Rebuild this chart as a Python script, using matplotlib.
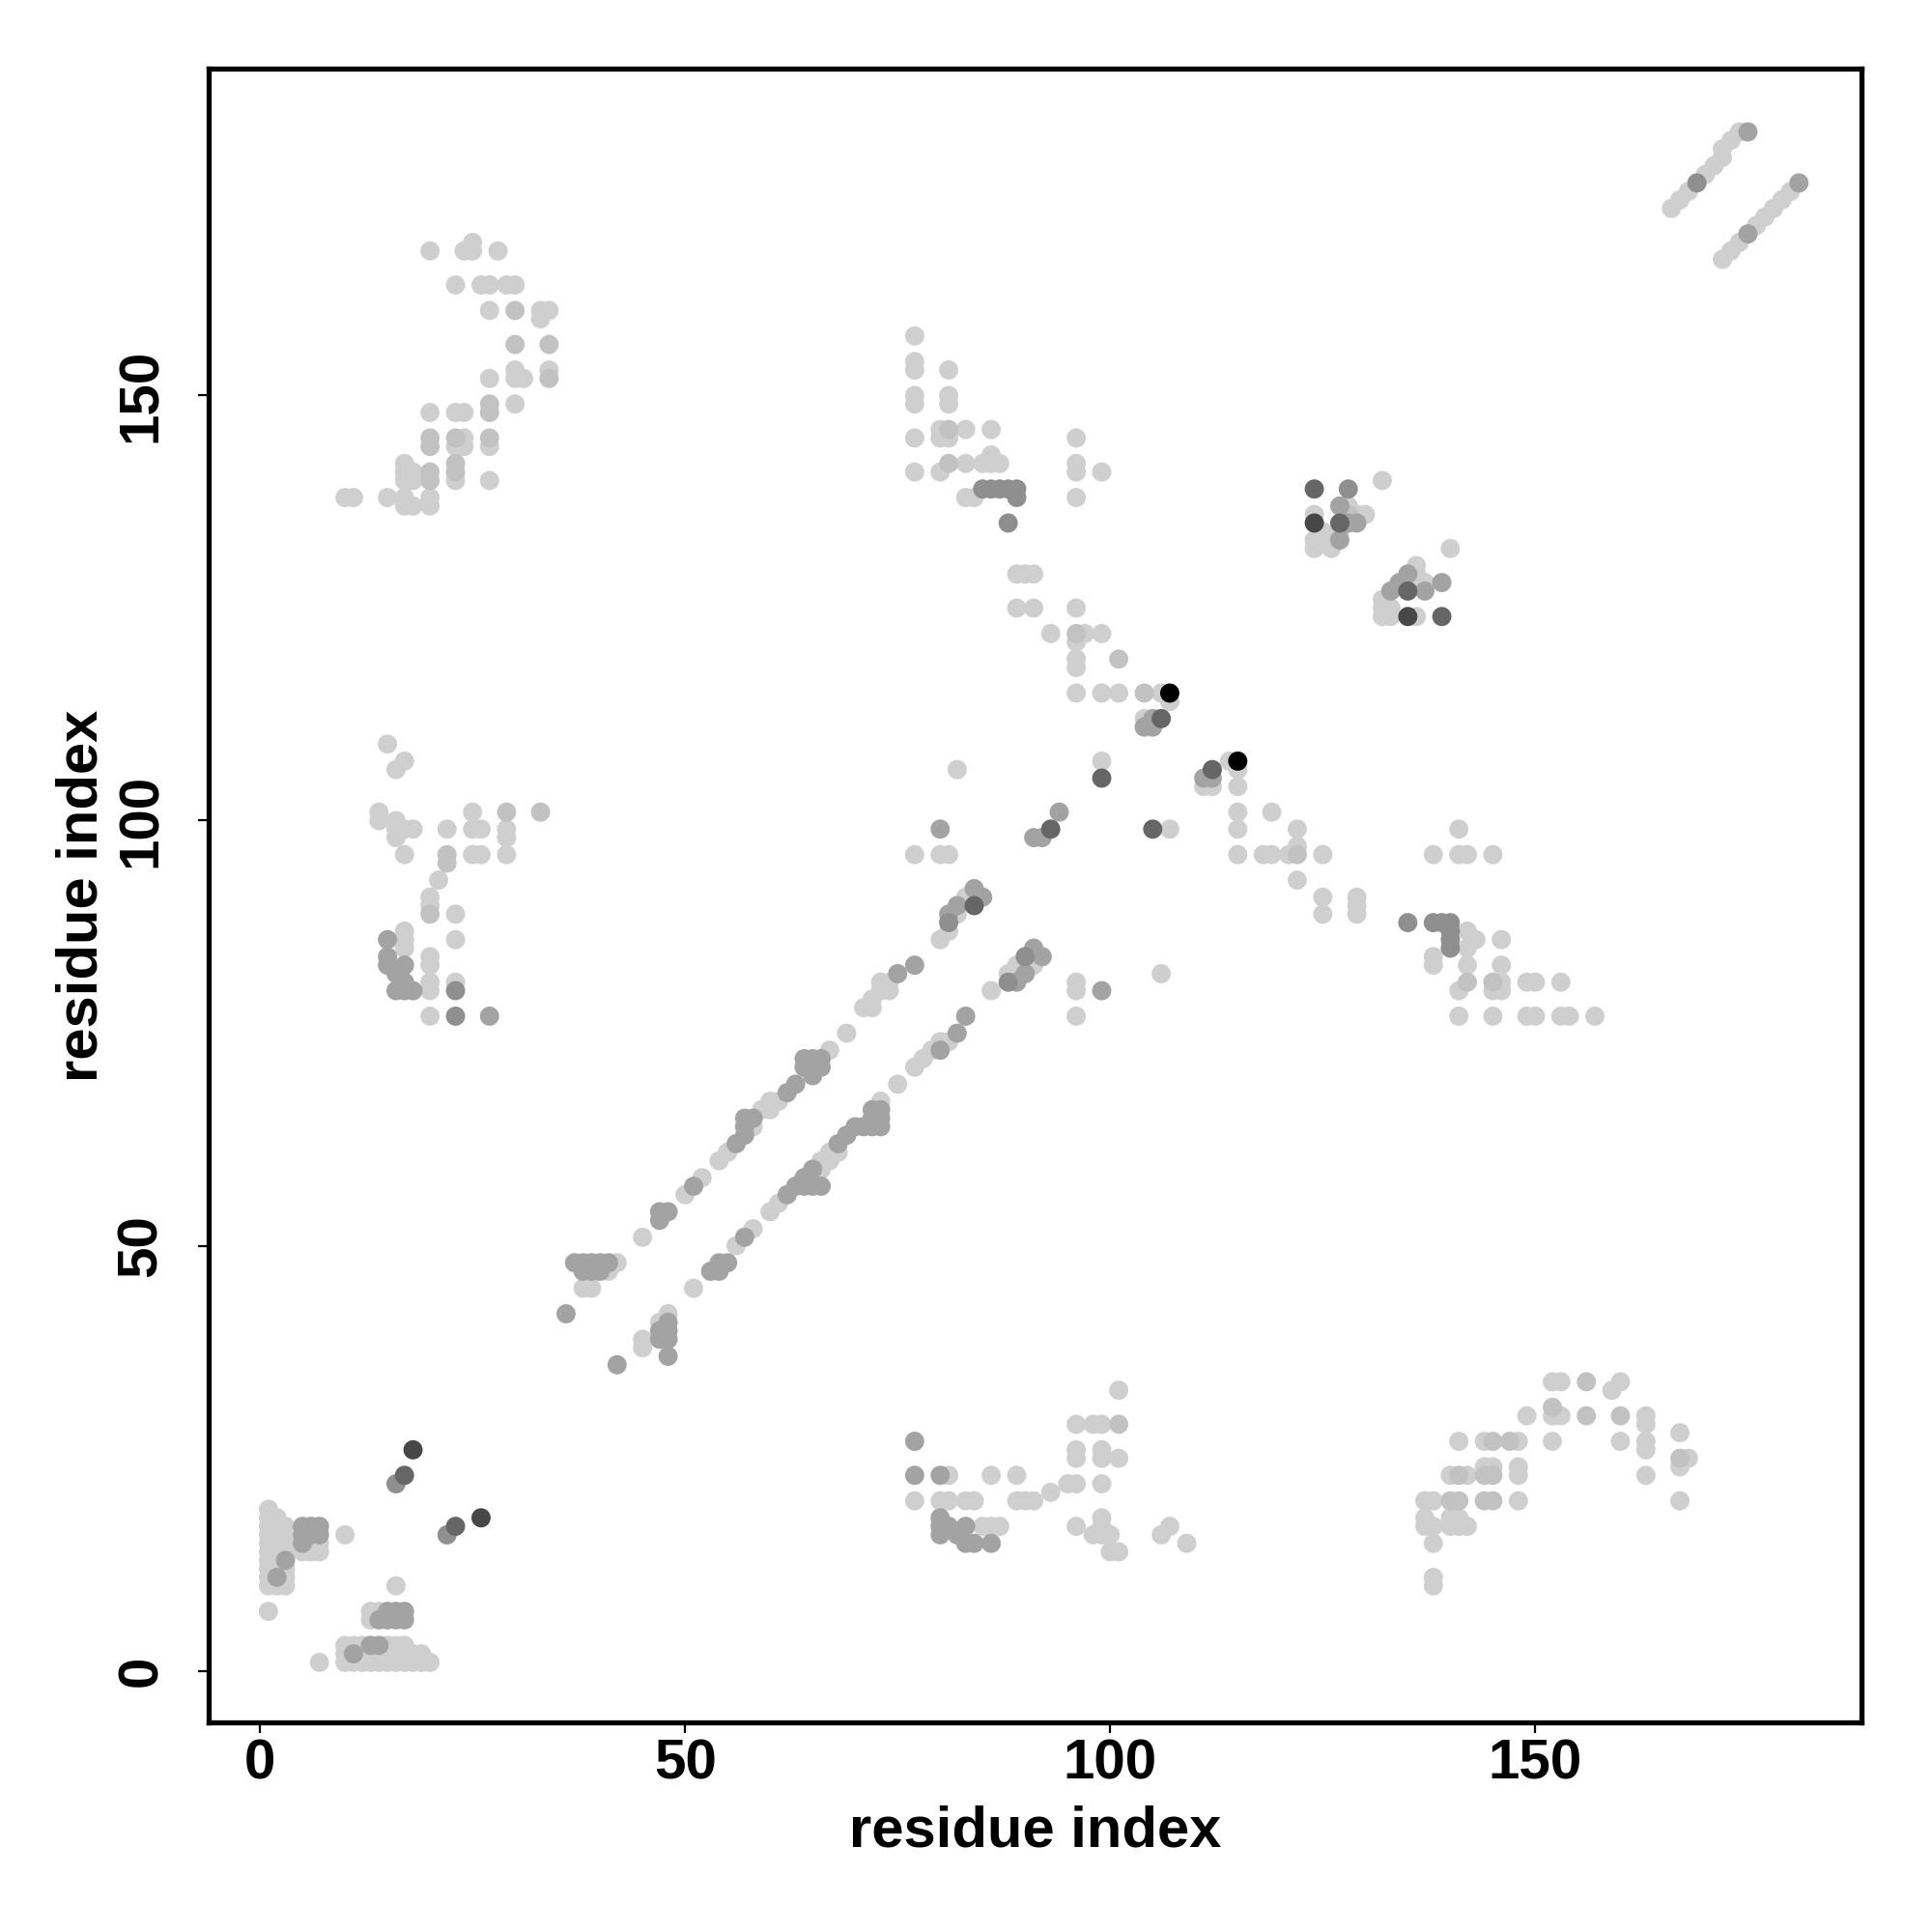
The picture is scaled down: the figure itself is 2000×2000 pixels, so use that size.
import matplotlib
matplotlib.use("Agg")
import matplotlib.pyplot as plt
import numpy as np

# contact points: (residue i, residue j, shade level 1=light .. 7=black)
bottom_left = [
    (1, 7, 1), (1, 10, 1), (1, 11, 1), (1, 12, 1), (1, 13, 1), (1, 14, 1), (1, 15, 1), (1, 16, 1),
    (1, 17, 1), (1, 18, 1), (1, 19, 1), (2, 10, 1), (2, 12, 1), (2, 13, 1), (2, 14, 1), (2, 15, 1),
    (2, 16, 1), (2, 17, 1), (2, 18, 1), (3, 10, 1), (3, 11, 1), (3, 12, 1), (3, 14, 1), (3, 15, 1),
    (3, 16, 1), (3, 17, 1), (2, 11, 3), (3, 13, 3),
    (5, 17, 3), (6, 17, 3), (7, 17, 3), (5, 16, 3), (6, 16, 3), (7, 16, 3), (5, 15, 3),
    (5, 14, 1), (6, 14, 1), (7, 14, 1), (7, 15, 1), (6, 15, 1),
    (10, 16, 1), (16, 10, 1),
    (13, 7, 1), (14, 7, 1), (15, 7, 3), (16, 7, 3), (17, 7, 3), (13, 6, 1), (14, 6, 3), (15, 6, 3),
    (16, 6, 3), (17, 6, 3),
    (7, 1, 1), (10, 1, 1), (10, 2, 1), (10, 3, 1), (11, 1, 1), (11, 3, 1), (12, 1, 1), (12, 2, 1),
    (12, 3, 1), (11, 2, 3), (13, 3, 3), (14, 3, 3), (13, 1, 1), (13, 2, 1), (14, 1, 1), (14, 2, 1),
    (15, 1, 1), (15, 2, 1), (15, 3, 1), (16, 1, 1), (16, 2, 1), (16, 3, 1), (17, 1, 1), (17, 2, 1),
    (17, 3, 1), (18, 1, 1), (18, 2, 1), (19, 1, 1), (19, 2, 1), (20, 1, 1),
    (18, 26, 6), (17, 23, 5), (16, 22, 4), (26, 18, 6), (23, 17, 5), (22, 16, 4),
]

diag_upper = [
    (36, 42, 3), (37, 48, 3), (38, 48, 3), (39, 48, 3), (40, 48, 3), (41, 48, 3), (38, 47, 3),
    (39, 47, 3), (40, 47, 3), (41, 47, 1), (42, 48, 1), (38, 45, 1), (39, 45, 1),
    (45, 51, 1), (47, 54, 3), (48, 54, 3), (47, 53, 3), (50, 56, 1), (51, 57, 3), (52, 58, 1),
    (54, 60, 1), (55, 61, 1), (56, 62, 3), (57, 63, 3), (57, 64, 3), (58, 65, 3), (57, 65, 3),
    (58, 64, 1), (59, 66, 1), (60, 66, 1), (60, 67, 1), (61, 67, 1), (62, 68, 3), (63, 69, 3),
    (64, 71, 3), (65, 71, 3), (66, 71, 3), (64, 72, 3), (65, 72, 3), (66, 72, 3), (65, 70, 3),
    (67, 73, 1), (69, 75, 1), (71, 78, 1), (72, 78, 1), (72, 79, 1), (73, 80, 1), (73, 81, 1),
    (74, 81, 1), (74, 80, 1), (75, 82, 3), (77, 83, 3),
    (80, 86, 1), (81, 87, 1), (81, 88, 4), (81, 89, 3), (82, 89, 1), (82, 90, 3), (83, 91, 1),
    (84, 90, 5), (84, 92, 3), (85, 91, 3),
    (80, 99, 3), (77, 96, 1), (80, 96, 1), (81, 96, 1), (82, 106, 1),
    (91, 98, 3), (92, 98, 3), (93, 99, 5), (94, 101, 3), (99, 105, 5), (99, 107, 1),
    (104, 112, 1), (105, 112, 3), (106, 112, 5), (104, 111, 3), (105, 111, 3),
    (96, 115, 1), (99, 115, 1), (101, 115, 1), (104, 115, 2), (106, 115, 1), (107, 114, 1),
    (107, 115, 7),
]

diag_lower = [
    (42, 36, 3), (45, 38, 1), (45, 39, 1), (47, 39, 3), (48, 39, 3), (47, 40, 3), (48, 40, 3),
    (48, 41, 3), (48, 42, 1), (47, 41, 1), (48, 37, 3),
    (51, 45, 1), (53, 47, 3), (54, 47, 3), (54, 48, 3), (55, 48, 3), (56, 50, 1), (57, 51, 3),
    (58, 52, 1), (60, 54, 1), (61, 55, 1),
    (62, 56, 3), (63, 57, 3), (64, 57, 3), (65, 57, 3), (66, 57, 3), (64, 58, 3), (65, 59, 3),
    (65, 58, 1), (66, 60, 1), (66, 59, 1), (67, 60, 1), (67, 61, 1), (68, 61, 1),
    (68, 62, 3), (69, 63, 3), (70, 64, 3), (71, 64, 3), (72, 64, 3), (72, 65, 3), (73, 65, 3),
    (73, 64, 3), (72, 66, 3), (73, 66, 3), (73, 67, 1),
    (75, 69, 1), (77, 71, 1), (78, 72, 1), (79, 73, 1), (80, 73, 3), (80, 74, 1), (81, 74, 1),
    (82, 75, 3), (83, 77, 3),
    (86, 80, 1), (88, 81, 4), (89, 81, 3), (88, 82, 1), (89, 83, 1), (90, 82, 3), (90, 84, 4),
    (91, 83, 1), (91, 85, 3), (92, 84, 3),
    (96, 81, 1), (96, 80, 1), (96, 77, 1), (99, 80, 3), (106, 82, 1), (105, 99, 5), (107, 99, 1),
    (111, 105, 3), (112, 105, 3), (111, 104, 1), (112, 104, 1), (112, 106, 5), (114, 107, 1),
    (115, 106, 1), (115, 104, 1), (115, 101, 1), (115, 99, 1), (115, 96, 1), (118, 96, 1),
    (115, 107, 7),
]

top_middle = [
    (77, 157, 1), (77, 154, 1), (77, 153, 1), (81, 153, 1), (77, 150, 1), (77, 149, 1), (81, 150, 1),
    (81, 149, 1), (77, 145, 1), (80, 146, 1), (81, 146, 2), (80, 145, 1), (81, 145, 1), (83, 146, 1),
    (86, 146, 1), (77, 141, 1), (80, 141, 1), (81, 142, 2), (83, 142, 1), (85, 142, 1), (86, 143, 1),
    (86, 142, 1), (87, 142, 1), (83, 138, 1), (84, 138, 1),
    (85, 139, 4), (86, 139, 4), (87, 139, 4), (88, 139, 4), (89, 139, 4), (89, 138, 4), (88, 135, 4),
    (89, 129, 1), (90, 129, 1), (91, 129, 1), (89, 125, 1), (91, 125, 1), (96, 125, 1), (93, 122, 1),
    (96, 122, 2), (97, 122, 1), (99, 122, 1), (96, 121, 1), (96, 119, 1), (96, 118, 1), (101, 119, 2),
    (96, 145, 1), (96, 142, 1), (96, 141, 1), (96, 138, 1), (99, 141, 1),
]

top_left = [
    (20, 167, 1), (24, 167, 1), (25, 168, 1), (25, 167, 1), (28, 167, 1),
    (23, 163, 1), (26, 163, 1), (27, 163, 1), (29, 163, 1), (30, 163, 1),
    (27, 160, 1), (30, 160, 2), (33, 160, 1), (34, 160, 1), (33, 159, 1),
    (30, 156, 2), (34, 156, 2),
    (30, 153, 1), (30, 152, 1), (31, 152, 1), (34, 153, 1), (34, 152, 2), (27, 152, 1),
    (30, 149, 1), (27, 149, 2), (27, 148, 2), (20, 148, 1), (23, 148, 1), (24, 148, 1),
    (20, 145, 2), (20, 144, 2), (23, 145, 2), (23, 144, 1), (24, 145, 1), (24, 144, 1), (27, 145, 2),
    (27, 144, 1), (17, 142, 1), (17, 141, 1), (17, 140, 1), (18, 141, 1), (18, 140, 1), (20, 141, 2),
    (20, 140, 2), (23, 142, 2), (23, 141, 2), (23, 140, 1), (27, 140, 1),
    (10, 138, 1), (11, 138, 1), (15, 138, 1), (17, 138, 1), (17, 137, 1), (18, 137, 1), (20, 138, 1),
    (20, 137, 1),
]

left_middle = [
    (15, 109, 1), (17, 107, 1), (16, 106, 1),
    (14, 101, 1), (14, 100, 1), (16, 100, 1), (16, 99, 1), (16, 98, 1), (17, 99, 1), (18, 99, 1),
    (17, 96, 1), (22, 99, 1), (25, 101, 1), (29, 101, 2), (33, 101, 2), (25, 99, 1), (26, 99, 1),
    (29, 99, 1), (29, 98, 1), (22, 96, 2), (22, 95, 2), (25, 96, 1), (26, 96, 1), (29, 96, 1),
    (21, 93, 1), (20, 91, 1), (20, 90, 1), (20, 89, 2), (23, 89, 1), (23, 86, 1),
    (17, 87, 1), (17, 86, 1), (17, 85, 1), (15, 86, 3), (15, 84, 3), (15, 83, 3), (17, 83, 3),
    (16, 82, 3), (16, 80, 3), (17, 80, 3), (18, 80, 3), (17, 81, 3),
    (20, 84, 1), (20, 83, 1), (20, 81, 1), (20, 80, 1), (20, 77, 1), (23, 81, 1), (23, 80, 4),
    (23, 77, 4), (27, 77, 3),
]

right_middle = [
    (124, 139, 5), (128, 139, 4), (132, 140, 1), (124, 136, 1), (124, 135, 6), (124, 133, 1),
    (124, 132, 1), (125, 133, 1), (126, 132, 1), (125, 134, 1), (127, 137, 3), (128, 137, 1),
    (129, 136, 1), (130, 136, 1), (128, 136, 2), (127, 135, 5), (128, 135, 3), (129, 135, 3),
    (127, 133, 3), (127, 134, 1), (126, 133, 1),
    (140, 132, 1), (136, 130, 1), (136, 129, 1), (139, 128, 3), (135, 129, 3), (134, 128, 3),
    (133, 127, 3), (135, 127, 5), (137, 127, 3), (136, 128, 1), (137, 128, 1),
    (132, 126, 1), (132, 125, 1), (132, 124, 1), (133, 124, 1), (133, 125, 1), (135, 124, 6),
    (136, 124, 1), (139, 124, 5),
]

right_lower = [
    (119, 101, 1), (122, 99, 1), (121, 96, 1), (119, 96, 1), (122, 96, 2), (125, 96, 1),
    (122, 97, 1), (122, 93, 1), (125, 91, 1), (125, 89, 1), (129, 91, 1), (129, 90, 1), (129, 89, 1),
    (135, 88, 4), (138, 88, 4), (139, 88, 4), (140, 88, 4), (140, 87, 4), (140, 86, 4), (140, 85, 4),
    (138, 84, 1), (138, 83, 1), (142, 87, 1), (143, 86, 1), (142, 85, 1), (146, 86, 1), (142, 83, 1),
    (146, 83, 1), (141, 80, 1), (142, 81, 2), (145, 81, 2), (146, 81, 1), (145, 80, 1), (146, 80, 1),
    (149, 81, 1), (150, 81, 1), (153, 81, 1),
    (141, 77, 1), (145, 77, 1), (149, 77, 1), (150, 77, 1), (153, 77, 1), (154, 77, 1), (157, 77, 1),
    (138, 96, 1), (141, 96, 1), (142, 96, 1), (145, 96, 1), (141, 99, 1),
]

bottom_middle = [
    (101, 33, 1), (96, 29, 1), (98, 29, 1), (99, 29, 1), (101, 29, 2), (77, 27, 3), (96, 26, 1),
    (96, 25, 1), (99, 26, 1), (99, 25, 1), (101, 25, 1),
    (77, 23, 3), (80, 23, 3), (81, 23, 1), (86, 23, 1), (89, 23, 1), (95, 22, 1), (96, 22, 1),
    (99, 22, 1), (93, 21, 1),
    (77, 20, 1), (80, 20, 1), (81, 20, 1), (83, 20, 1), (84, 20, 1), (89, 20, 1), (90, 20, 1),
    (91, 20, 1), (96, 17, 1), (99, 18, 1), (99, 17, 1), (98, 16, 1), (99, 16, 1), (100, 16, 1),
    (100, 14, 1), (101, 14, 1),
    (80, 18, 3), (80, 17, 3), (80, 16, 3), (81, 17, 3), (82, 16, 3), (83, 17, 3), (83, 15, 3),
    (84, 15, 3), (86, 15, 3), (85, 17, 1), (86, 17, 1), (87, 17, 1),
    (106, 16, 1), (107, 17, 1), (109, 15, 1),
]

bottom_right = [
    (152, 34, 1), (153, 34, 1), (156, 34, 2), (160, 34, 1), (159, 33, 1),
    (152, 31, 2), (152, 30, 1), (153, 30, 1), (149, 30, 1), (156, 30, 2), (160, 30, 2), (163, 30, 1),
    (163, 29, 1), (167, 28, 1),
    (141, 27, 1), (144, 27, 1), (145, 27, 2), (147, 27, 2), (148, 27, 1), (152, 27, 1), (160, 27, 1),
    (163, 27, 1), (163, 26, 1), (167, 25, 2), (168, 25, 1), (167, 24, 1),
    (144, 24, 1), (145, 24, 1), (148, 24, 1), (148, 23, 1), (140, 23, 1), (141, 23, 2), (142, 23, 1),
    (144, 23, 2), (145, 23, 2), (163, 23, 1),
    (137, 20, 1), (138, 20, 1), (140, 20, 2), (141, 20, 2), (144, 20, 2), (145, 20, 2), (148, 20, 1),
    (167, 20, 1), (137, 18, 1), (137, 17, 1), (138, 17, 1), (140, 18, 1), (140, 17, 1), (141, 18, 1),
    (141, 17, 1), (142, 17, 1), (138, 15, 1), (138, 11, 1), (138, 10, 1),
]

top_right = [
    (166, 172, 1), (167, 173, 1), (168, 174, 1), (169, 175, 4), (170, 176, 1), (171, 177, 1),
    (172, 178, 1), (172, 179, 1), (173, 180, 1), (174, 181, 1), (175, 181, 3),
    (172, 166, 1), (173, 167, 1), (174, 168, 1), (175, 169, 3), (176, 170, 1), (177, 171, 1),
    (178, 172, 1), (179, 173, 1), (180, 174, 1), (181, 175, 3),
]

# grey value for each shade level
shade_grey = {1: 0.81, 2: 0.76, 3: 0.64, 4: 0.56, 5: 0.40, 6: 0.28, 7: 0.0}

plt.rcParams['font.family'] = ['Liberation Sans', 'DejaVu Sans']
plt.rcParams['font.weight'] = 'bold'

pts = np.array(bottom_left + diag_upper + diag_lower + top_middle + top_left + left_middle
               + right_middle + right_lower + bottom_middle + bottom_right + top_right, dtype=float)
order = np.argsort(pts[:, 2], kind='stable')
pts = pts[order]
cols = [(shade_grey[int(l)],) * 3 for l in pts[:, 2]]

fig = plt.figure(figsize=(20, 20), dpi=100)
ax = fig.add_axes([0.1078, 0.1084, 0.8559, 0.8559])
ax.scatter(pts[:, 0], pts[:, 1], s=205, c=cols, linewidths=0)

ax.set_xlim(-6.08, 188.4)
ax.set_ylim(-6.08, 188.4)
ax.set_xticks([0, 50, 100, 150])
ax.set_yticks([0, 50, 100, 150])
for sp in ax.spines.values():
    sp.set_linewidth(3.8)
ax.tick_params(axis='both', direction='out', length=8, width=1.6, labelsize=42)
ax.tick_params(axis='x', pad=4)
ax.tick_params(axis='y', pad=22)
for lab in ax.get_yticklabels():
    lab.set_rotation(90)
    lab.set_va('center')
    lab.set_weight('bold')
for lab in ax.get_xticklabels():
    lab.set_weight('bold')

ax.set_xlabel('residue index', fontsize=43, fontweight='bold')
ax.set_ylabel('residue index', fontsize=43, fontweight='bold')
ax.xaxis.set_label_coords(0.5, -0.05)
ax.yaxis.set_label_coords(-0.06, 0.5)

fig.savefig('out.png', dpi=100, facecolor='white')
